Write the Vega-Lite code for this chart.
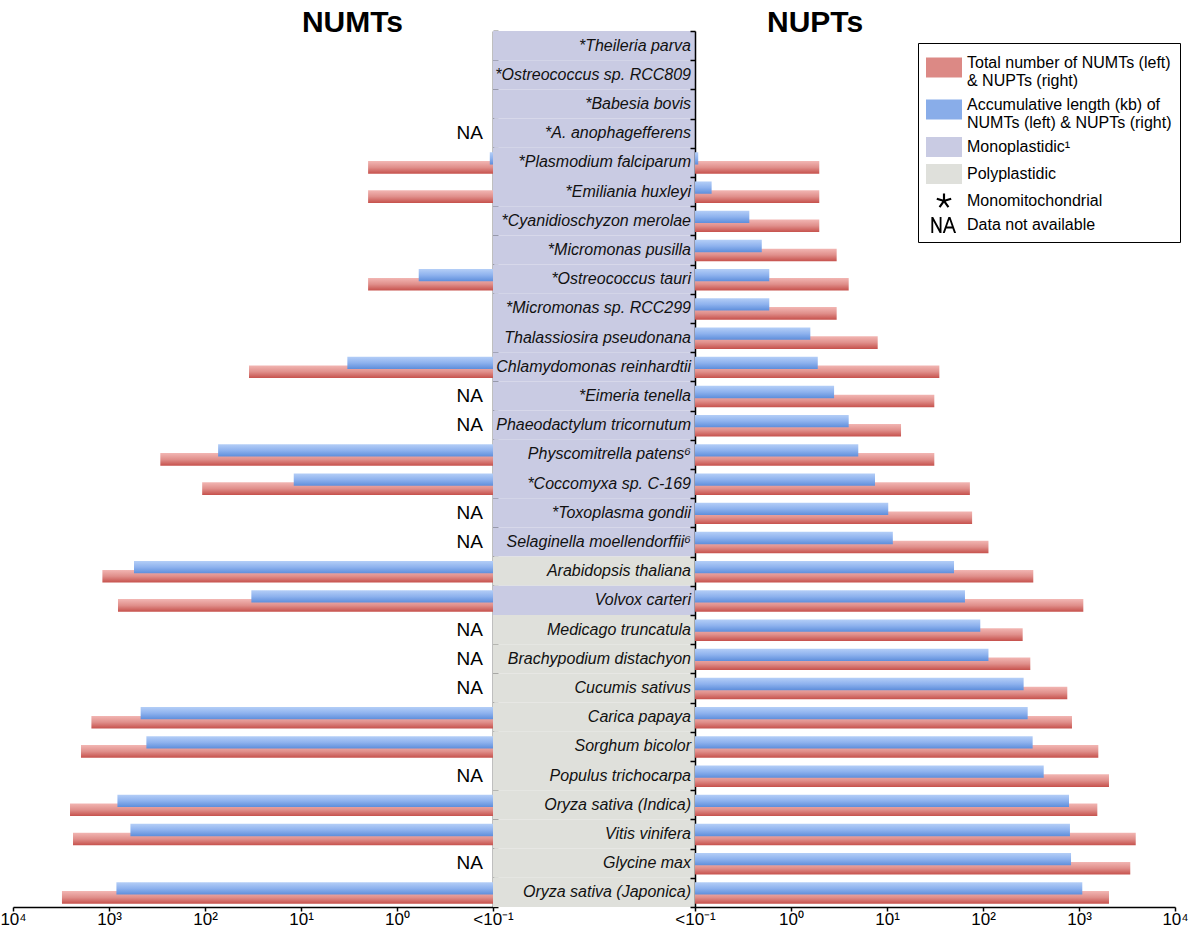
{
  "$schema": "https://vega.github.io/schema/vega-lite/v6.json",
  "background": "white",
  "autosize": {"type": "pad"},
  "padding": {"left": -1, "top": 8, "right": 5, "bottom": 2},
  "bounds": "flush",
  "spacing": 0,
  "config": {
    "font": "Liberation Sans",
    "view": {"stroke": null},
    "axis": {"domainColor": "#000", "tickColor": "#000", "labelColor": "#000", "grid": false, "domainWidth": 1.5, "tickWidth": 1.5, "labelFont": "Liberation Sans"},
    "title": {"font": "Liberation Sans", "fontSize": 30, "fontWeight": "bold", "color": "#000", "baseline": "alphabetic", "offset": -8, "frame": "group"}
  },
  "datasets": {
    "species": [
      {"sp": "Theileria parva", "label": "*Theileria parva", "plastid": "mono", "na": false},
      {"sp": "Ostreococcus sp. RCC809", "label": "*Ostreococcus sp. RCC809", "plastid": "mono", "na": false},
      {"sp": "Babesia bovis", "label": "*Babesia bovis", "plastid": "mono", "na": false},
      {"sp": "A. anophagefferens", "label": "*A. anophagefferens", "plastid": "mono", "na": true},
      {"sp": "Plasmodium falciparum", "label": "*Plasmodium falciparum", "plastid": "mono", "na": false},
      {"sp": "Emiliania huxleyi", "label": "*Emiliania huxleyi", "plastid": "mono", "na": false},
      {"sp": "Cyanidioschyzon merolae", "label": "*Cyanidioschyzon merolae", "plastid": "mono", "na": false},
      {"sp": "Micromonas pusilla", "label": "*Micromonas pusilla", "plastid": "mono", "na": false},
      {"sp": "Ostreococcus tauri", "label": "*Ostreococcus tauri", "plastid": "mono", "na": false},
      {"sp": "Micromonas sp. RCC299", "label": "*Micromonas sp. RCC299", "plastid": "mono", "na": false},
      {"sp": "Thalassiosira pseudonana", "label": "Thalassiosira pseudonana", "plastid": "mono", "na": false},
      {"sp": "Chlamydomonas reinhardtii", "label": "Chlamydomonas reinhardtii", "plastid": "mono", "na": false},
      {"sp": "Eimeria tenella", "label": "*Eimeria tenella", "plastid": "mono", "na": true},
      {"sp": "Phaeodactylum tricornutum", "label": "Phaeodactylum tricornutum", "plastid": "mono", "na": true},
      {"sp": "Physcomitrella patens", "label": "Physcomitrella patens⁶", "plastid": "mono", "na": false},
      {"sp": "Coccomyxa sp. C-169", "label": "*Coccomyxa sp. C-169", "plastid": "mono", "na": false},
      {"sp": "Toxoplasma gondii", "label": "*Toxoplasma gondii", "plastid": "mono", "na": true},
      {"sp": "Selaginella moellendorffii", "label": "Selaginella moellendorffii⁶", "plastid": "mono", "na": true},
      {"sp": "Arabidopsis thaliana", "label": "Arabidopsis thaliana", "plastid": "poly", "na": false},
      {"sp": "Volvox carteri", "label": "Volvox carteri", "plastid": "mono", "na": false},
      {"sp": "Medicago truncatula", "label": "Medicago truncatula", "plastid": "poly", "na": true},
      {"sp": "Brachypodium distachyon", "label": "Brachypodium distachyon", "plastid": "poly", "na": true},
      {"sp": "Cucumis sativus", "label": "Cucumis sativus", "plastid": "poly", "na": true},
      {"sp": "Carica papaya", "label": "Carica papaya", "plastid": "poly", "na": false},
      {"sp": "Sorghum bicolor", "label": "Sorghum bicolor", "plastid": "poly", "na": false},
      {"sp": "Populus trichocarpa", "label": "Populus trichocarpa", "plastid": "poly", "na": true},
      {"sp": "Oryza sativa (Indica)", "label": "Oryza sativa (Indica)", "plastid": "poly", "na": false},
      {"sp": "Vitis vinifera", "label": "Vitis vinifera", "plastid": "poly", "na": false},
      {"sp": "Glycine max", "label": "Glycine max", "plastid": "poly", "na": true},
      {"sp": "Oryza sativa (Japonica)", "label": "Oryza sativa (Japonica)", "plastid": "poly", "na": false}
    ],
    "bars": [
      {"sp": "Plasmodium falciparum", "side": "NUMT", "m": "total", "v": 2},
      {"sp": "Emiliania huxleyi", "side": "NUMT", "m": "total", "v": 2},
      {"sp": "Ostreococcus tauri", "side": "NUMT", "m": "total", "v": 2},
      {"sp": "Chlamydomonas reinhardtii", "side": "NUMT", "m": "total", "v": 34.8},
      {"sp": "Physcomitrella patens", "side": "NUMT", "m": "total", "v": 292},
      {"sp": "Coccomyxa sp. C-169", "side": "NUMT", "m": "total", "v": 107},
      {"sp": "Arabidopsis thaliana", "side": "NUMT", "m": "total", "v": 1172},
      {"sp": "Volvox carteri", "side": "NUMT", "m": "total", "v": 806},
      {"sp": "Carica papaya", "side": "NUMT", "m": "total", "v": 1525},
      {"sp": "Sorghum bicolor", "side": "NUMT", "m": "total", "v": 1958},
      {"sp": "Oryza sativa (Indica)", "side": "NUMT", "m": "total", "v": 2548},
      {"sp": "Vitis vinifera", "side": "NUMT", "m": "total", "v": 2371},
      {"sp": "Oryza sativa (Japonica)", "side": "NUMT", "m": "total", "v": 3090},
      {"sp": "Plasmodium falciparum", "side": "NUMT", "m": "length", "v": 0.108},
      {"sp": "Ostreococcus tauri", "side": "NUMT", "m": "length", "v": 0.594},
      {"sp": "Chlamydomonas reinhardtii", "side": "NUMT", "m": "length", "v": 3.29},
      {"sp": "Physcomitrella patens", "side": "NUMT", "m": "length", "v": 73},
      {"sp": "Coccomyxa sp. C-169", "side": "NUMT", "m": "length", "v": 11.9},
      {"sp": "Arabidopsis thaliana", "side": "NUMT", "m": "length", "v": 549},
      {"sp": "Volvox carteri", "side": "NUMT", "m": "length", "v": 32.9},
      {"sp": "Carica papaya", "side": "NUMT", "m": "length", "v": 468},
      {"sp": "Sorghum bicolor", "side": "NUMT", "m": "length", "v": 408},
      {"sp": "Oryza sativa (Indica)", "side": "NUMT", "m": "length", "v": 817},
      {"sp": "Vitis vinifera", "side": "NUMT", "m": "length", "v": 598},
      {"sp": "Oryza sativa (Japonica)", "side": "NUMT", "m": "length", "v": 837},
      {"sp": "Plasmodium falciparum", "side": "NUPT", "m": "total", "v": 1.97},
      {"sp": "Emiliania huxleyi", "side": "NUPT", "m": "total", "v": 1.97},
      {"sp": "Cyanidioschyzon merolae", "side": "NUPT", "m": "total", "v": 1.97},
      {"sp": "Micromonas pusilla", "side": "NUPT", "m": "total", "v": 2.99},
      {"sp": "Ostreococcus tauri", "side": "NUPT", "m": "total", "v": 3.99},
      {"sp": "Micromonas sp. RCC299", "side": "NUPT", "m": "total", "v": 2.99},
      {"sp": "Thalassiosira pseudonana", "side": "NUPT", "m": "total", "v": 8.0},
      {"sp": "Chlamydomonas reinhardtii", "side": "NUPT", "m": "total", "v": 35.1},
      {"sp": "Eimeria tenella", "side": "NUPT", "m": "total", "v": 31.1},
      {"sp": "Phaeodactylum tricornutum", "side": "NUPT", "m": "total", "v": 14},
      {"sp": "Physcomitrella patens", "side": "NUPT", "m": "total", "v": 31.1},
      {"sp": "Coccomyxa sp. C-169", "side": "NUPT", "m": "total", "v": 73},
      {"sp": "Toxoplasma gondii", "side": "NUPT", "m": "total", "v": 77},
      {"sp": "Selaginella moellendorffii", "side": "NUPT", "m": "total", "v": 114},
      {"sp": "Arabidopsis thaliana", "side": "NUPT", "m": "total", "v": 334},
      {"sp": "Volvox carteri", "side": "NUPT", "m": "total", "v": 1109},
      {"sp": "Medicago truncatula", "side": "NUPT", "m": "total", "v": 259},
      {"sp": "Brachypodium distachyon", "side": "NUPT", "m": "total", "v": 311},
      {"sp": "Cucumis sativus", "side": "NUPT", "m": "total", "v": 755},
      {"sp": "Carica papaya", "side": "NUPT", "m": "total", "v": 845},
      {"sp": "Sorghum bicolor", "side": "NUPT", "m": "total", "v": 1589},
      {"sp": "Populus trichocarpa", "side": "NUPT", "m": "total", "v": 2053},
      {"sp": "Oryza sativa (Indica)", "side": "NUPT", "m": "total", "v": 1552},
      {"sp": "Vitis vinifera", "side": "NUPT", "m": "total", "v": 3899},
      {"sp": "Glycine max", "side": "NUPT", "m": "total", "v": 3420},
      {"sp": "Oryza sativa (Japonica)", "side": "NUPT", "m": "total", "v": 2053},
      {"sp": "Plasmodium falciparum", "side": "NUPT", "m": "length", "v": 0.108},
      {"sp": "Emiliania huxleyi", "side": "NUPT", "m": "length", "v": 0.149},
      {"sp": "Cyanidioschyzon merolae", "side": "NUPT", "m": "length", "v": 0.368},
      {"sp": "Micromonas pusilla", "side": "NUPT", "m": "length", "v": 0.496},
      {"sp": "Ostreococcus tauri", "side": "NUPT", "m": "length", "v": 0.594},
      {"sp": "Micromonas sp. RCC299", "side": "NUPT", "m": "length", "v": 0.594},
      {"sp": "Thalassiosira pseudonana", "side": "NUPT", "m": "length", "v": 1.59},
      {"sp": "Chlamydomonas reinhardtii", "side": "NUPT", "m": "length", "v": 1.9},
      {"sp": "Eimeria tenella", "side": "NUPT", "m": "length", "v": 2.81},
      {"sp": "Phaeodactylum tricornutum", "side": "NUPT", "m": "length", "v": 3.99},
      {"sp": "Physcomitrella patens", "side": "NUPT", "m": "length", "v": 5.02},
      {"sp": "Coccomyxa sp. C-169", "side": "NUPT", "m": "length", "v": 7.5},
      {"sp": "Toxoplasma gondii", "side": "NUPT", "m": "length", "v": 10.3},
      {"sp": "Selaginella moellendorffii", "side": "NUPT", "m": "length", "v": 11.5},
      {"sp": "Arabidopsis thaliana", "side": "NUPT", "m": "length", "v": 49.9},
      {"sp": "Volvox carteri", "side": "NUPT", "m": "length", "v": 64.9},
      {"sp": "Medicago truncatula", "side": "NUPT", "m": "length", "v": 93.7},
      {"sp": "Brachypodium distachyon", "side": "NUPT", "m": "length", "v": 114},
      {"sp": "Cucumis sativus", "side": "NUPT", "m": "length", "v": 265},
      {"sp": "Carica papaya", "side": "NUPT", "m": "length", "v": 292},
      {"sp": "Sorghum bicolor", "side": "NUPT", "m": "length", "v": 329},
      {"sp": "Populus trichocarpa", "side": "NUPT", "m": "length", "v": 429},
      {"sp": "Oryza sativa (Indica)", "side": "NUPT", "m": "length", "v": 787},
      {"sp": "Vitis vinifera", "side": "NUPT", "m": "length", "v": 805},
      {"sp": "Glycine max", "side": "NUPT", "m": "length", "v": 826},
      {"sp": "Oryza sativa (Japonica)", "side": "NUPT", "m": "length", "v": 1082}
    ],
    "legend": [
      {"k": "total"}, {"k": "length"}, {"k": "mono"}, {"k": "poly"}, {"k": "star"}, {"k": "na"}
    ]
  },
  "resolve": {
    "scale": {"x": "independent", "color": "independent", "shape": "independent", "fill": "independent"},
    "legend": {"color": "independent", "shape": "independent"}
  },
  "hconcat": [
    {
      "width": 480,
      "height": 876,
      "title": {"text": "NUMTs", "anchor": "end", "dx": -90},
      "encoding": {
        "y": {
          "field": "sp", "type": "nominal",
          "scale": {"paddingInner": 0, "paddingOuter": 0, "domain": ["Theileria parva", "Ostreococcus sp. RCC809", "Babesia bovis", "A. anophagefferens", "Plasmodium falciparum", "Emiliania huxleyi", "Cyanidioschyzon merolae", "Micromonas pusilla", "Ostreococcus tauri", "Micromonas sp. RCC299", "Thalassiosira pseudonana", "Chlamydomonas reinhardtii", "Eimeria tenella", "Phaeodactylum tricornutum", "Physcomitrella patens", "Coccomyxa sp. C-169", "Toxoplasma gondii", "Selaginella moellendorffii", "Arabidopsis thaliana", "Volvox carteri", "Medicago truncatula", "Brachypodium distachyon", "Cucumis sativus", "Carica papaya", "Sorghum bicolor", "Populus trichocarpa", "Oryza sativa (Indica)", "Vitis vinifera", "Glycine max", "Oryza sativa (Japonica)"]},
          "axis": {"orient": "right", "labels": false, "title": null, "tickSize": 5, "tickBand": "extent"}
        }
      },
      "layer": [
        {
          "data": {"name": "bars"},
          "transform": [{"filter": "datum.side == 'NUMT' && datum.m == 'total'"}],
          "mark": {"type": "bar", "height": 12.6, "yOffset": 5,
            "color": {"gradient": "linear", "x1": 0, "y1": 0, "x2": 0, "y2": 1, "stops": [{"offset": 0, "color": "#f2b6b3"}, {"offset": 0.5, "color": "#e08f8b"}, {"offset": 1, "color": "#c6514c"}]}},
          "encoding": {
            "x": {
              "field": "v", "type": "quantitative",
              "scale": {"type": "log", "domain": [0.1, 10000], "reverse": true, "nice": false},
              "axis": {"values": [0.1, 1, 10, 100, 1000, 10000], "title": null, "labelFlush": false, "labelFontSize": 17, "tickSize": 4, "labelPadding": 0,
                "labelExpr": "datum.value < 0.5 ? '<10⁻¹' : datum.value < 5 ? '10⁰' : datum.value < 50 ? '10¹' : datum.value < 500 ? '10²' : datum.value < 5000 ? '10³' : '10⁴'"}
            },
            "x2": {"datum": 0.1}
          }
        },
        {
          "data": {"name": "bars"},
          "transform": [{"filter": "datum.side == 'NUMT' && datum.m == 'length'"}],
          "mark": {"type": "bar", "height": 12.3, "yOffset": -4,
            "color": {"gradient": "linear", "x1": 0, "y1": 0, "x2": 0, "y2": 1, "stops": [{"offset": 0, "color": "#b4cef7"}, {"offset": 0.5, "color": "#8eb2ee"}, {"offset": 1, "color": "#5e8edb"}]}},
          "encoding": {"x": {"field": "v", "type": "quantitative"}, "x2": {"datum": 0.1}}
        },
        {
          "data": {"name": "species"},
          "transform": [{"filter": {"field": "na", "equal": true}}],
          "mark": {"type": "text", "align": "right", "baseline": "middle", "dx": -10, "fontSize": 19, "color": "#000", "font": "Liberation Sans"},
          "encoding": {"x": {"datum": 0.1, "type": "quantitative"}, "text": {"value": "NA"}}
        }
      ]
    },
    {
      "width": 202,
      "height": 876,
      "data": {"name": "species"},
      "encoding": {
        "y": {
          "field": "sp", "type": "nominal",
          "scale": {"paddingInner": 0, "paddingOuter": 0, "domain": ["Theileria parva", "Ostreococcus sp. RCC809", "Babesia bovis", "A. anophagefferens", "Plasmodium falciparum", "Emiliania huxleyi", "Cyanidioschyzon merolae", "Micromonas pusilla", "Ostreococcus tauri", "Micromonas sp. RCC299", "Thalassiosira pseudonana", "Chlamydomonas reinhardtii", "Eimeria tenella", "Phaeodactylum tricornutum", "Physcomitrella patens", "Coccomyxa sp. C-169", "Toxoplasma gondii", "Selaginella moellendorffii", "Arabidopsis thaliana", "Volvox carteri", "Medicago truncatula", "Brachypodium distachyon", "Cucumis sativus", "Carica papaya", "Sorghum bicolor", "Populus trichocarpa", "Oryza sativa (Indica)", "Vitis vinifera", "Glycine max", "Oryza sativa (Japonica)"]},
          "axis": null
        }
      },
      "layer": [
        {
          "mark": {"type": "rect"},
          "encoding": {
            "x": {"datum": 0, "type": "quantitative", "scale": {"domain": [0, 1], "nice": false}, "axis": null},
            "x2": {"datum": 1},
            "fill": {"field": "plastid", "type": "nominal", "scale": {"domain": ["mono", "poly"], "range": ["#c9cbe3", "#dfe0db"]}, "legend": null}
          }
        },
        {
          "mark": {"type": "text", "align": "right", "baseline": "middle", "dx": -4, "fontSize": 16, "fontStyle": "italic", "color": "#111", "font": "Liberation Sans"},
          "encoding": {
            "x": {"datum": 1, "type": "quantitative"},
            "text": {"field": "label"}
          }
        }
      ]
    },
    {
      "width": 480,
      "height": 876,
      "title": {"text": "NUPTs", "anchor": "start", "dx": 72},
      "encoding": {
        "y": {
          "field": "sp", "type": "nominal",
          "scale": {"paddingInner": 0, "paddingOuter": 0, "domain": ["Theileria parva", "Ostreococcus sp. RCC809", "Babesia bovis", "A. anophagefferens", "Plasmodium falciparum", "Emiliania huxleyi", "Cyanidioschyzon merolae", "Micromonas pusilla", "Ostreococcus tauri", "Micromonas sp. RCC299", "Thalassiosira pseudonana", "Chlamydomonas reinhardtii", "Eimeria tenella", "Phaeodactylum tricornutum", "Physcomitrella patens", "Coccomyxa sp. C-169", "Toxoplasma gondii", "Selaginella moellendorffii", "Arabidopsis thaliana", "Volvox carteri", "Medicago truncatula", "Brachypodium distachyon", "Cucumis sativus", "Carica papaya", "Sorghum bicolor", "Populus trichocarpa", "Oryza sativa (Indica)", "Vitis vinifera", "Glycine max", "Oryza sativa (Japonica)"]},
          "axis": {"orient": "left", "labels": false, "title": null, "tickSize": 5, "tickBand": "extent"}
        }
      },
      "layer": [
        {
          "data": {"name": "bars"},
          "transform": [{"filter": "datum.side == 'NUPT' && datum.m == 'total'"}],
          "mark": {"type": "bar", "height": 12.6, "yOffset": 5,
            "color": {"gradient": "linear", "x1": 0, "y1": 0, "x2": 0, "y2": 1, "stops": [{"offset": 0, "color": "#f2b6b3"}, {"offset": 0.5, "color": "#e08f8b"}, {"offset": 1, "color": "#c6514c"}]}},
          "encoding": {
            "x": {
              "field": "v", "type": "quantitative",
              "scale": {"type": "log", "domain": [0.1, 10000], "nice": false},
              "axis": {"values": [0.1, 1, 10, 100, 1000, 10000], "title": null, "labelFlush": false, "labelFontSize": 17, "tickSize": 4, "labelPadding": 0,
                "labelExpr": "datum.value < 0.5 ? '<10⁻¹' : datum.value < 5 ? '10⁰' : datum.value < 50 ? '10¹' : datum.value < 500 ? '10²' : datum.value < 5000 ? '10³' : '10⁴'"}
            },
            "x2": {"datum": 0.1}
          }
        },
        {
          "data": {"name": "bars"},
          "transform": [{"filter": "datum.side == 'NUPT' && datum.m == 'length'"}],
          "mark": {"type": "bar", "height": 12.3, "yOffset": -4,
            "color": {"gradient": "linear", "x1": 0, "y1": 0, "x2": 0, "y2": 1, "stops": [{"offset": 0, "color": "#b4cef7"}, {"offset": 0.5, "color": "#8eb2ee"}, {"offset": 1, "color": "#5e8edb"}]}},
          "encoding": {"x": {"field": "v", "type": "quantitative"}, "x2": {"datum": 0.1}}
        },
        {
          "data": {"name": "legend"},
          "mark": {"type": "point", "filled": true, "opacity": 0},
          "encoding": {
            "x": {"datum": 1000, "type": "quantitative"},
            "y": {"datum": "Theileria parva", "type": "nominal"},
            "color": {
              "field": "k", "type": "nominal",
              "scale": {"domain": ["total", "length", "mono", "poly", "star", "na"], "range": ["#dc8985", "#89ade9", "#c9cbe3", "#dfe0db", "#000000", "#000000"]},
              "legend": {
                "title": null, "orient": "none", "legendX": 223, "legendY": 12,
                "symbolSize": 576, "symbolStrokeWidth": 0, "symbolOpacity": 1, "symbolOffset": 6,
                "labelFontSize": 16, "labelFont": "Liberation Sans", "labelColor": "#000", "labelOffset": 11, "labelLimit": 0,
                "rowPadding": 4, "padding": 8, "strokeColor": "#000", "fillColor": "#fff",
                "labelExpr": "datum.value == 'total' ? ['Total number of NUMTs (left)', '& NUPTs (right)'] : datum.value == 'length' ? ['Accumulative length (kb) of', 'NUMTs (left) & NUPTs (right)'] : datum.value == 'mono' ? 'Monoplastidic¹' : datum.value == 'poly' ? 'Polyplastidic' : datum.value == 'star' ? 'Monomitochondrial' : 'Data not available'"
              }
            },
            "shape": {
              "field": "k", "type": "nominal",
              "scale": {"domain": ["total", "length", "mono", "poly", "star", "na"], "range": [
                "M-1.5,-0.465L1.5,-0.465L1.5,1.215L-1.5,1.215Z",
                "M-1.5,-0.465L1.5,-0.465L1.5,1.215L-1.5,1.215Z",
                "M-1.5,-0.84L1.5,-0.84L1.5,0.84L-1.5,0.84Z",
                "M-1.5,-0.84L1.5,-0.84L1.5,0.84L-1.5,0.84Z",
                "M-0.09,-0.63L0.09,-0.63L0.09,-0.125L0.572,-0.281L0.627,-0.11L0.146,0.048L0.443,0.458L0.297,0.563L0,0.153L-0.297,0.563L-0.443,0.458L-0.146,0.048L-0.627,-0.11L-0.572,-0.281L-0.09,-0.125Z",
                "M-1.05,0.675L-1.05,-0.675L-0.9,-0.675L-0.36,0.33L-0.36,-0.675L-0.21,-0.675L-0.21,0.675L-0.36,0.675L-0.9,-0.33L-0.9,0.675Z M-0.105,0.675L0.3675,-0.675L0.5325,-0.675L1.005,0.675L0.84,0.675L0.7035,0.285L0.1965,0.285L0.06,0.675Z M0.2475,0.12L0.6525,0.12L0.45,-0.45Z"
              ]},
              "legend": {
                "title": null, "orient": "none", "legendX": 223, "legendY": 12,
                "symbolSize": 576, "symbolStrokeWidth": 0, "symbolOpacity": 1, "symbolOffset": 6,
                "labelFontSize": 16, "labelFont": "Liberation Sans", "labelColor": "#000", "labelOffset": 11, "labelLimit": 0,
                "rowPadding": 4, "padding": 8, "strokeColor": "#000", "fillColor": "#fff",
                "labelExpr": "datum.value == 'total' ? ['Total number of NUMTs (left)', '& NUPTs (right)'] : datum.value == 'length' ? ['Accumulative length (kb) of', 'NUMTs (left) & NUPTs (right)'] : datum.value == 'mono' ? 'Monoplastidic¹' : datum.value == 'poly' ? 'Polyplastidic' : datum.value == 'star' ? 'Monomitochondrial' : 'Data not available'"
              }
            }
          }
        }
      ]
    }
  ]
}
